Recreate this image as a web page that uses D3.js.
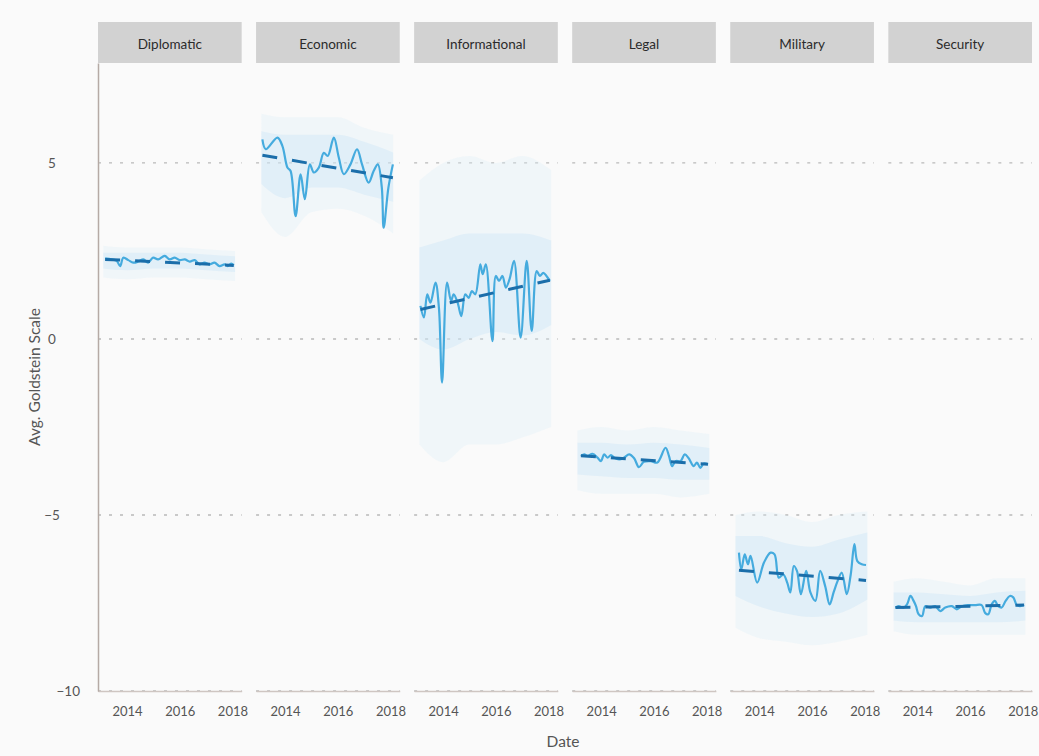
<!DOCTYPE html>
<html>
<head>
<meta charset="utf-8">
<script src="https://cdn.jsdelivr.net/npm/d3@7"></script>
<style>
  html, body { margin: 0; padding: 0; background: #fafafa; }
  svg { display: block; font-family: Lato, "Open Sans", sans-serif; }
</style>
</head>
<body>
<svg id="chart" width="1039" height="756"></svg>
<script>
// Event categories (facets)
const categories = ["Diplomatic", "Economic", "Informational", "Legal", "Military", "Security"];

// Monthly smoothed average Goldstein score, per category (decimal year, value)
const diplomaticYears = [2013.17, 2013.42, 2013.61, 2013.74, 2013.86, 2014.05, 2014.24, 2014.43, 2014.62, 2014.80, 2014.99, 2015.18, 2015.43, 2015.62, 2015.81, 2016.00, 2016.19, 2016.38, 2016.57, 2016.75, 2016.94, 2017.13, 2017.32, 2017.51, 2017.70, 2017.82, 2017.95, 2018.05];
const diplomaticValues = [2.29, 2.26, 2.22, 2.07, 2.31, 2.24, 2.17, 2.20, 2.26, 2.17, 2.31, 2.26, 2.36, 2.26, 2.31, 2.24, 2.26, 2.20, 2.24, 2.12, 2.17, 2.12, 2.17, 2.07, 2.12, 2.07, 2.14, 2.10];

const economicYears = [2013.14, 2013.27, 2013.71, 2013.90, 2014.09, 2014.21, 2014.40, 2014.59, 2014.75, 2014.94, 2015.09, 2015.28, 2015.47, 2015.62, 2015.85, 2016.04, 2016.23, 2016.48, 2016.73, 2016.92, 2017.17, 2017.36, 2017.52, 2017.67, 2017.74, 2017.92, 2018.09];
const economicValues = [5.67, 5.39, 5.72, 5.48, 4.87, 4.77, 3.49, 4.68, 3.97, 4.96, 4.73, 4.87, 5.29, 5.20, 5.72, 5.15, 4.68, 4.96, 5.39, 4.96, 4.44, 4.77, 4.96, 4.30, 3.16, 4.30, 4.96];

const informationalYears = [2013.14, 2013.27, 2013.40, 2013.52, 2013.71, 2013.84, 2013.96, 2014.15, 2014.30, 2014.40, 2014.55, 2014.69, 2014.84, 2014.97, 2015.09, 2015.22, 2015.41, 2015.50, 2015.62, 2015.87, 2016.00, 2016.12, 2016.25, 2016.38, 2016.52, 2016.69, 2016.94, 2017.17, 2017.36, 2017.55, 2017.67, 2017.80, 2017.92, 2018.05];
const informationalValues = [0.94, 0.61, 1.27, 1.03, 1.60, 0.89, -1.24, 1.60, 1.08, 1.27, 1.03, 0.65, 1.27, 1.17, 1.36, 1.27, 2.12, 1.84, 2.12, -0.06, 1.79, 1.65, 1.79, 1.46, 1.70, 2.22, 0.04, 2.22, 0.23, 1.93, 1.79, 1.88, 1.79, 1.65];

const legalYears = [2013.23, 2013.36, 2013.48, 2013.67, 2013.86, 2013.99, 2014.11, 2014.24, 2014.37, 2014.49, 2014.68, 2014.87, 2015.06, 2015.25, 2015.43, 2015.62, 2015.88, 2016.13, 2016.44, 2016.57, 2016.69, 2016.82, 2017.01, 2017.17, 2017.32, 2017.51, 2017.63, 2017.76, 2017.89, 2018.05];
const legalValues = [-3.32, -3.28, -3.32, -3.26, -3.37, -3.47, -3.28, -3.37, -3.30, -3.37, -3.42, -3.37, -3.28, -3.39, -3.64, -3.49, -3.47, -3.51, -3.09, -3.32, -3.61, -3.47, -3.47, -3.28, -3.39, -3.61, -3.51, -3.66, -3.54, -3.56];

const militaryYears = [2013.23, 2013.32, 2013.45, 2013.57, 2013.67, 2013.92, 2014.18, 2014.43, 2014.58, 2014.74, 2014.91, 2015.06, 2015.18, 2015.31, 2015.43, 2015.58, 2015.78, 2015.94, 2016.13, 2016.31, 2016.50, 2016.67, 2016.82, 2016.97, 2017.13, 2017.32, 2017.47, 2017.61, 2017.72, 2017.89, 2018.05];
const militaryValues = [-6.07, -6.54, -6.12, -6.40, -6.16, -6.92, -6.35, -6.07, -6.12, -6.78, -6.69, -6.92, -7.20, -6.45, -6.59, -7.25, -6.59, -7.20, -7.44, -6.59, -7.02, -7.54, -7.20, -6.88, -6.64, -7.25, -6.69, -5.83, -6.31, -6.40, -6.42];

const securityYears = [2013.17, 2013.29, 2013.48, 2013.61, 2013.74, 2013.86, 2013.95, 2014.05, 2014.18, 2014.30, 2014.49, 2014.68, 2014.87, 2015.06, 2015.31, 2015.50, 2015.69, 2015.94, 2016.19, 2016.44, 2016.57, 2016.69, 2016.82, 2016.94, 2017.07, 2017.20, 2017.35, 2017.51, 2017.64, 2017.76, 2017.89, 2018.05];
const securityValues = [-7.63, -7.59, -7.63, -7.54, -7.30, -7.44, -7.59, -7.82, -7.87, -7.59, -7.63, -7.59, -7.73, -7.63, -7.59, -7.68, -7.59, -7.56, -7.56, -7.56, -7.78, -7.82, -7.54, -7.44, -7.59, -7.63, -7.44, -7.30, -7.34, -7.54, -7.59, -7.56];

// Linear trend fitted to each category: value at first and last date
const trendStartYear = [2013.17, 2013.14, 2013.14, 2013.23, 2013.23, 2013.17];
const trendEndYear   = [2018.05, 2018.09, 2018.05, 2018.05, 2018.05, 2018.05];
const trendStartValue = [2.26, 5.22, 0.84, -3.32, -6.57, -7.63];
const trendEndValue   = [2.09, 4.58, 1.67, -3.56, -6.86, -7.56];

// Spread of the daily observations: outer (sparse) and inner (dense) envelopes
const cloudYears = [2013.1, 2014.0, 2015.0, 2016.0, 2017.0, 2018.1];
const cloudOuterLow = [
  [1.75, 1.7, 1.75, 1.75, 1.7, 1.65],
  [3.6, 2.9, 3.6, 3.7, 3.5, 3.0],
  [-3.0, -3.5, -3.0, -3.0, -2.8, -2.5],
  [-4.3, -4.4, -4.4, -4.4, -4.5, -4.4],
  [-8.2, -8.5, -8.6, -8.7, -8.6, -8.4],
  [-8.3, -8.4, -8.4, -8.4, -8.4, -8.4]
];
const cloudOuterHigh = [
  [2.65, 2.6, 2.6, 2.6, 2.55, 2.5],
  [6.4, 6.3, 6.3, 6.3, 6.0, 5.8],
  [4.5, 5.0, 5.2, 5.0, 5.2, 4.8],
  [-2.6, -2.5, -2.6, -2.5, -2.6, -2.7],
  [-5.0, -4.9, -5.0, -5.2, -5.0, -4.9],
  [-6.9, -6.8, -6.9, -7.0, -6.8, -6.8]
];
const cloudInnerLow = [
  [2.0, 1.95, 2.0, 2.0, 1.95, 1.9],
  [4.4, 4.0, 4.3, 4.3, 4.1, 3.9],
  [0.0, -0.3, 0.0, 0.2, 0.1, 0.4],
  [-3.85, -3.9, -3.95, -3.95, -4.0, -4.0],
  [-7.3, -7.6, -7.8, -7.9, -7.8, -7.4],
  [-8.0, -8.05, -8.05, -8.05, -8.05, -8.0]
];
const cloudInnerHigh = [
  [2.45, 2.45, 2.45, 2.45, 2.4, 2.35],
  [5.9, 5.8, 5.8, 5.8, 5.6, 5.3],
  [2.6, 2.8, 3.0, 3.0, 3.0, 2.8],
  [-2.95, -2.95, -3.0, -2.95, -3.0, -3.1],
  [-5.6, -5.6, -5.8, -5.9, -5.7, -5.5],
  [-7.2, -7.2, -7.25, -7.3, -7.2, -7.15]
];

// Axis ticks
const yTicks = [-10, -5, 0, 5];
const yGrid = [-10, -5, 0, 5];
const xTicks = [2014, 2016, 2018];

const smoothYears = [diplomaticYears, economicYears, informationalYears, legalYears, militaryYears, securityYears];
const smoothValues = [diplomaticValues, economicValues, informationalValues, legalValues, militaryValues, securityValues];

const svg = d3.select("#chart");
const W = 1039, H = 756;
const plotLeft = 98, plotRight = 1032, plotTop = 63, plotBottom = 691;
const stripTop = 22;

svg.append("rect").attr("width", W).attr("height", H).attr("fill", "#fafafa");

const band = d3.scaleBand().domain(categories).range([plotLeft, plotRight]).paddingInner(0.091).paddingOuter(0);
const y = d3.scaleLinear().domain([-10, 7.84]).range([plotBottom, plotTop]);
const xLocal = d3.scaleLinear().domain([2012.9, 2018.35]).range([0, band.bandwidth()]);

const lineGen = d3.line().x(d => xLocal(d[0])).y(d => y(d[1])).curve(d3.curveCatmullRom.alpha(0.5));
const areaGen = d3.area().x(d => xLocal(d[0])).y0(d => y(d[1])).y1(d => y(d[2])).curve(d3.curveMonotoneX);

categories.forEach((cat, i) => {
  const g = svg.append("g").attr("transform", `translate(${band(cat)},0)`);
  const bw = band.bandwidth();

  // strip header
  g.append("rect").attr("x", 0).attr("y", stripTop).attr("width", bw).attr("height", plotTop - stripTop)
    .attr("fill", "#d2d2d2");
  g.append("text").attr("x", bw / 2).attr("y", (stripTop + plotTop) / 2 + 6)
    .attr("text-anchor", "middle").attr("font-size", 13.5).attr("fill", "#2b2b2b").text(cat);

  // horizontal dotted gridlines
  g.selectAll(".grid").data(yGrid).enter().append("line")
    .attr("x1", 0).attr("x2", bw).attr("y1", d => y(d)).attr("y2", d => y(d))
    .attr("stroke", "#b9b9b9").attr("stroke-width", 1.3).attr("stroke-dasharray", "3,8");

  // bottom axis
  const xAxis = d3.axisBottom(xLocal).tickValues(xTicks).tickFormat(d3.format("d")).tickSize(0).tickPadding(16);
  const ax = g.append("g").attr("transform", `translate(0,${plotBottom})`).call(xAxis);
  ax.select(".domain").attr("stroke", "#cfc6c2").attr("stroke-width", 1.5);
  ax.selectAll("text").attr("font-size", 13).attr("fill", "#555").attr("font-family", "Lato, sans-serif");

  // observation cloud
  const outer = cloudYears.map((t, k) => [t, cloudOuterLow[i][k], cloudOuterHigh[i][k]]);
  const inner = cloudYears.map((t, k) => [t, cloudInnerLow[i][k], cloudInnerHigh[i][k]]);
  g.append("path").attr("d", areaGen(outer)).attr("fill", "#d9edf8").attr("opacity", 0.3);
  g.append("path").attr("d", areaGen(inner)).attr("fill", "#c6e3f5").attr("opacity", 0.35);

  // smoothed monthly line
  const pts = smoothYears[i].map((t, k) => [t, smoothValues[i][k]]);
  g.append("path").attr("d", lineGen(pts)).attr("fill", "none")
    .attr("stroke", "#45abde").attr("stroke-width", 2.2).attr("stroke-linejoin", "round");

  // linear trend
  const trend = [[trendStartYear[i], trendStartValue[i]], [trendEndYear[i], trendEndValue[i]]];
  g.append("path").attr("d", d3.line().x(d => xLocal(d[0])).y(d => y(d[1]))(trend))
    .attr("fill", "none").attr("stroke", "#1b6eaa").attr("stroke-width", 3)
    .attr("stroke-dasharray", "15,15");
});

// left axis
const yAxis = d3.axisLeft(y).tickValues(yTicks).tickFormat(d3.format("d")).tickSize(0).tickPadding(18);
const ay = svg.append("g").attr("transform", `translate(${plotLeft},0)`).call(yAxis);
ay.select(".domain").attr("stroke", "#b5aaa5").attr("stroke-width", 1.5);
ay.selectAll(".tick text").attr("font-size", 13.5).attr("fill", "#555").attr("font-family", "Lato, sans-serif")
  .attr("text-anchor", d => d === -10 ? "end" : "middle")
  .attr("x", d => d === -10 ? -18 : -46);

// axis titles
svg.append("text").attr("x", 563).attr("y", 747).attr("text-anchor", "middle")
  .attr("font-size", 15.5).attr("fill", "#555").text("Date");
svg.append("text").attr("transform", `translate(40,${(plotTop + plotBottom) / 2}) rotate(-90)`)
  .attr("text-anchor", "middle").attr("font-size", 15.5).attr("fill", "#555").text("Avg. Goldstein Scale");
</script>
</body>
</html>
